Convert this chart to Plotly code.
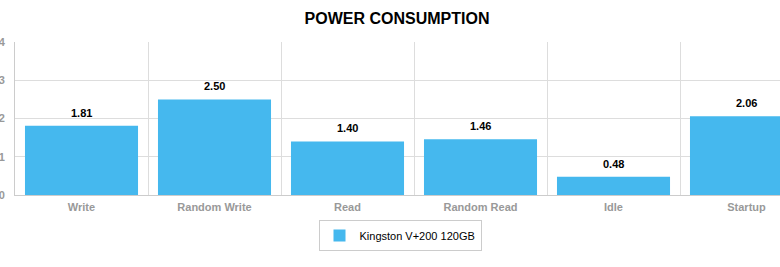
import plotly.graph_objects as go

categories = ["Write", "Random Write", "Read", "Random Read", "Idle", "Startup"]
values = [1.81, 2.50, 1.40, 1.46, 0.48, 2.06]
series_name = "Kingston V+200 120GB"
y_ticks = [0, 1, 2, 3, 4]

fig = go.Figure()
fig.add_trace(go.Bar(
    x=categories, y=values, name=series_name,
    marker=dict(color="#45b8ee", line=dict(width=0)),
    showlegend=True,
))

for c, v in zip(categories, values):
    fig.add_annotation(x=c, y=v, text=f"<b>{v:.2f}</b>", showarrow=False,
                       yanchor="bottom", yshift=5,
                       font=dict(family="Liberation Sans", size=11, color="#000"))

fig.update_layout(
    width=780, height=267,
    margin=dict(l=15, r=0, t=42, b=72),
    paper_bgcolor="white", plot_bgcolor="white",
    bargap=0.15,
    title=dict(text="<b>POWER CONSUMPTION</b>", x=397/780, xref="container", xanchor="center",
               y=1 - 18/267, yref="container", yanchor="middle",
               font=dict(family="Liberation Sans", size=16, color="#000")),
    font=dict(family="Liberation Sans"),
    showlegend=True,
    legend=dict(orientation="h", x=(400-15)/765, xanchor="center", y=-25/153, yanchor="top",
                bordercolor="#cccccc", borderwidth=1, itemwidth=30,
                font=dict(family="Liberation Sans", size=11, color="#000")),
    xaxis=dict(type="category", range=[-0.5, 5.5 - 33/133], tickson="boundaries",
               showgrid=True, gridcolor="#dddddd", gridwidth=1,
               showline=True, linecolor="#cccccc", ticks="",
               tickfont=dict(family="Liberation Sans", size=11, color="#999999", weight="bold"),
               ticklabelstandoff=2),
    yaxis=dict(range=[0, 4], tickvals=y_ticks, showgrid=True, gridcolor="#dddddd",
               showline=True, linecolor="#cccccc", zeroline=False, ticks="",
               tickfont=dict(family="Liberation Sans", size=11, color="#999999", weight="bold"),
               ticklabelstandoff=7),
)

fig.write_html("out.html")
